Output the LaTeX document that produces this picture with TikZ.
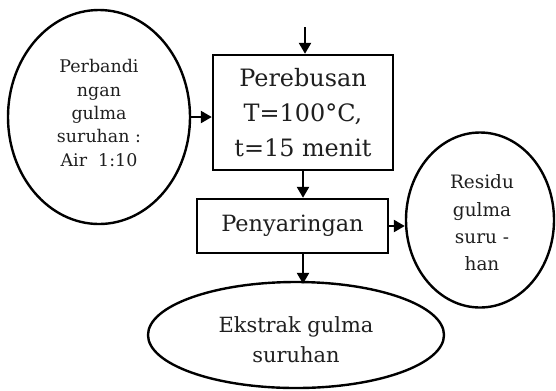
\documentclass[tikz,border=0pt]{standalone}
\usepackage{fontspec}
\setmainfont{DejaVu Serif}
\usetikzlibrary{arrows.meta,shapes.geometric}
\begin{document}
\begin{tikzpicture}[x=1bp,y=-1bp,
  line width=2.4bp,
  txt/.style={text=black!88, align=center, inner sep=0pt},
  procbox/.style={draw, rectangle, txt},
  oval/.style={draw, ellipse, txt, inner sep=0pt},
  arr/.style={-{Triangle[length=11bp,width=12bp]}, line width=2.4bp}]
\useasboundingbox (0,0) rectangle (556,390);
\node[procbox, minimum width=180bp, minimum height=115bp,
  font=\fontsize{24}{35}\selectfont] (box1) at (303,112.5) {Perebusan\\T=100°C,\\t=15 menit};
\node[procbox, minimum width=191bp, minimum height=54bp,
  font=\fontsize{22.5}{26}\selectfont] (box2) at (292.5,226) {Penyaringan};
\node[oval, minimum width=182bp, minimum height=214bp,
  label={[txt, font=\fontsize{17.5}{23.5}\selectfont, yshift=4bp]center:{Perbandi\\ngan\\gulma\\suruhan :\\Air\ \ 1:10}}] (ell1) at (99,117) {};
\node[oval, minimum width=148bp, minimum height=175bp,
  label={[txt, font=\fontsize{18.5}{27.5}\selectfont, yshift=-3bp, xshift=2bp]center:{Residu\\gulma\\suru -\\han}}] (ell2) at (480,220) {};
\node[oval, minimum width=296bp, minimum height=106bp,
  label={[txt, font=\fontsize{21}{30}\selectfont, yshift=-5bp]center:{Ekstrak gulma\\suruhan}}] (ell3) at (296,335) {};
\coordinate (in) at (305,27);
\draw[arr] (in) -- (in |- box1.north);
\draw[arr] (box1.south) -- (box1.south |- box2.north);
\draw[arr] (box1.south |- box2.south) -- ([yshift=-3bp]box1.south |- ell3.north);
\draw[arr] (ell1.east) -- (ell1.east -| box1.west);
\draw[arr] (box2.east) -- (box2.east -| ell2.west);
\end{tikzpicture}
\end{document}
